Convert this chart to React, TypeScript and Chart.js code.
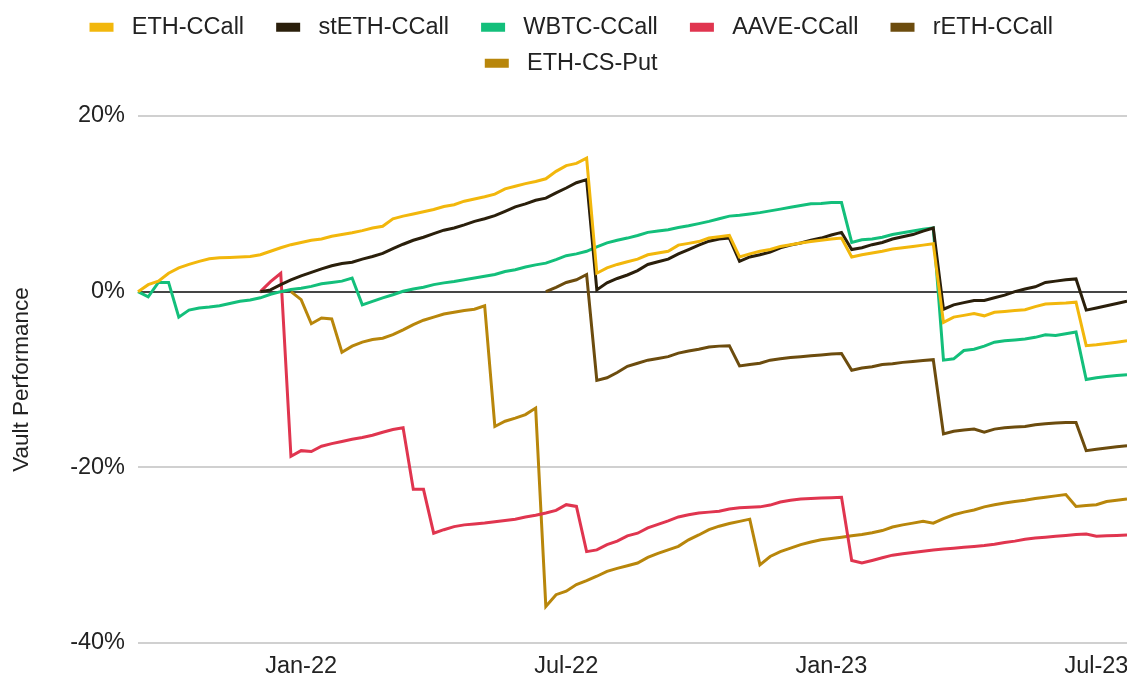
import React, { useEffect, useRef } from 'react';
import { Chart, registerables } from 'chart.js';

Chart.register(...registerables);

// ---- categories (weekly Friday roll dates) ----
const START_DATE = '2021-09-10';
const WEEK_COUNT = 98;
const CATEGORIES: string[] = [];
{
  const d0 = Date.parse(START_DATE + 'T00:00:00Z');
  for (let i = 0; i < WEEK_COUNT; i++) {
    CATEGORIES.push(new Date(d0 + i * 7 * 86400000).toISOString().slice(0, 10));
  }
}

// ---- x tick labels ----
const X_TICK_DATES = ['2021-12-31', '2022-07-01', '2022-12-30', '2023-06-30'];
const X_TICK_LABELS = ['Jan-22', 'Jul-22', 'Jan-23', 'Jul-23'];

// ---- y axis ----
const Y_MIN = -40;
const Y_MAX = 20;
const Y_STEP = 20;

// ---- series (percent) ----
const ETH_CCALL = [
  0, 0.8, 1.2, 2.1, 2.7, 3.1, 3.45, 3.75, 3.85, 3.9,
  3.95, 4.0, 4.2, 4.6, 5.0, 5.35, 5.6, 5.85, 6.0, 6.3,
  6.5, 6.7, 6.95, 7.25, 7.45, 8.3, 8.6, 8.85, 9.1, 9.35,
  9.7, 9.9, 10.3, 10.55, 10.8, 11.1, 11.7, 12.0, 12.3, 12.55,
  12.85, 13.7, 14.35, 14.6, 15.2, 2.1, 2.7, 3.1, 3.4, 3.7,
  4.2, 4.4, 4.6, 5.3, 5.5, 5.7, 6.1, 6.25, 6.4, 3.95,
  4.3, 4.6, 4.8, 5.15, 5.35, 5.55, 5.7, 5.85, 6.0, 6.1,
  3.95, 4.2, 4.4, 4.6, 4.85, 5.0, 5.15, 5.3, 5.45, -3.5,
  -2.9, -2.7, -2.5, -2.75, -2.35, -2.25, -2.15, -2.05, -1.7, -1.4,
  -1.35, -1.3, -1.2, -6.15, -6.05, -5.9, -5.75, -5.6,
];

const STETH_CCALL = [
  null, null, null, null, null, null, null, null, null, null,
  null, null, 0, 0.2, 0.8, 1.35, 1.8, 2.2, 2.6, 2.95,
  3.2, 3.35, 3.7, 4.0, 4.35, 4.9, 5.4, 5.85, 6.2, 6.6,
  7.0, 7.25, 7.6, 8.0, 8.3, 8.65, 9.15, 9.65, 10.0, 10.4,
  10.65, 11.25, 11.8, 12.4, 12.75, 0.2, 1.0, 1.5, 1.9, 2.4,
  3.1, 3.4, 3.7, 4.3, 4.8, 5.3, 5.75, 6.0, 6.1, 3.45,
  3.95, 4.2, 4.5, 5.0, 5.3, 5.55, 5.85, 6.1, 6.45, 6.75,
  4.8, 5.0, 5.35, 5.6, 6.0, 6.25, 6.5, 6.9, 7.25, -2.0,
  -1.5, -1.25, -1.0, -1.0, -0.7, -0.4, 0.0, 0.3, 0.55, 1.05,
  1.2, 1.35, 1.45, -2.1, -1.85, -1.6, -1.35, -1.1,
];

const WBTC_CCALL = [
  0, -0.6, 1.05, 1.05, -2.9, -2.1, -1.85, -1.75, -1.6, -1.35,
  -1.1, -0.95, -0.7, -0.3, 0.0, 0.25, 0.4, 0.6, 0.9, 1.05,
  1.2, 1.55, -1.5, -1.1, -0.7, -0.35, 0.05, 0.3, 0.5, 0.8,
  1.0, 1.15, 1.35, 1.55, 1.75, 1.95, 2.3, 2.5, 2.8, 3.05,
  3.25, 3.65, 4.1, 4.3, 4.6, 5.1, 5.55, 5.85, 6.1, 6.4,
  6.75, 6.9, 7.05, 7.3, 7.5, 7.75, 8.0, 8.3, 8.6, 8.7,
  8.85, 9.0, 9.2, 9.4, 9.6, 9.8, 10.0, 10.05, 10.15, 10.15,
  5.6, 5.9, 6.0, 6.2, 6.5, 6.7, 6.9, 7.1, 7.25, -7.8,
  -7.65, -6.7, -6.55, -6.2, -5.75, -5.6, -5.5, -5.4, -5.2, -4.9,
  -5.0, -4.8, -4.6, -10.0, -9.8, -9.65, -9.55, -9.45,
];

const AAVE_CCALL = [
  null, null, null, null, null, null, null, null, null, null,
  null, null, 0, 1.15, 2.1, -18.75, -18.1, -18.2, -17.6, -17.3,
  -17.05, -16.8, -16.6, -16.35, -16.0, -15.7, -15.5, -22.5, -22.5, -27.5,
  -27.1, -26.75, -26.55, -26.45, -26.35, -26.2, -26.05, -25.9, -25.65, -25.45,
  -25.2, -24.9, -24.25, -24.45, -29.6, -29.4, -28.8, -28.4, -27.8, -27.5,
  -26.9, -26.5, -26.1, -25.65, -25.4, -25.2, -25.1, -25.0, -24.75, -24.6,
  -24.55, -24.5, -24.3, -23.95, -23.75, -23.6, -23.55, -23.5, -23.45, -23.4,
  -30.6, -30.9, -30.6, -30.3, -30.0, -29.85, -29.7, -29.55, -29.4, -29.3,
  -29.2, -29.1, -29.0, -28.9, -28.75, -28.55, -28.4, -28.2, -28.05, -27.95,
  -27.85, -27.75, -27.65, -27.6, -27.85, -27.8, -27.75, -27.7,
];

const RETH_CCALL = [
  null, null, null, null, null, null, null, null, null, null,
  null, null, null, null, null, null, null, null, null, null,
  null, null, null, null, null, null, null, null, null, null,
  null, null, null, null, null, null, null, null, null, null,
  0, 0.5, 1.05, 1.35, 1.95, -10.1, -9.8, -9.2, -8.5, -8.15,
  -7.8, -7.6, -7.4, -7.0, -6.75, -6.55, -6.3, -6.2, -6.15, -8.45,
  -8.3, -8.15, -7.8, -7.65, -7.5, -7.4, -7.3, -7.2, -7.1, -7.05,
  -8.95, -8.7, -8.55, -8.3, -8.2, -8.05, -7.95, -7.85, -7.75, -16.2,
  -15.9, -15.75, -15.65, -16.0, -15.65, -15.5, -15.4, -15.35, -15.15, -15.05,
  -14.95, -14.9, -14.9, -18.1, -17.95, -17.8, -17.65, -17.55,
];

const ETH_CS_PUT = [
  null, null, null, null, null, null, null, null, null, null,
  null, null, null, null, null, 0, -0.9, -3.65, -3.0, -3.1,
  -6.9, -6.2, -5.75, -5.45, -5.3, -4.9, -4.35, -3.75, -3.25, -2.9,
  -2.55, -2.35, -2.15, -2.0, -1.6, -15.35, -14.75, -14.4, -14.0, -13.25,
  -35.85, -34.5, -34.1, -33.35, -32.9, -32.4, -31.85, -31.5, -31.2, -30.9,
  -30.25, -29.8, -29.4, -29.0, -28.25, -27.7, -27.1, -26.7, -26.4, -26.15,
  -25.9, -31.1, -30.15, -29.6, -29.2, -28.8, -28.5, -28.25, -28.1, -27.95,
  -27.8, -27.65, -27.45, -27.2, -26.8, -26.55, -26.35, -26.15, -26.35, -25.85,
  -25.4, -25.1, -24.85, -24.5, -24.25, -24.05, -23.9, -23.75, -23.55, -23.4,
  -23.25, -23.1, -24.45, -24.35, -24.25, -23.9, -23.75, -23.6,
];

const SERIES_NAMES = ['ETH-CCall', 'stETH-CCall', 'WBTC-CCall', 'AAVE-CCall', 'rETH-CCall', 'ETH-CS-Put'];
const SERIES_DATA = [ETH_CCALL, STETH_CCALL, WBTC_CCALL, AAVE_CCALL, RETH_CCALL, ETH_CS_PUT];
const SERIES_COLORS = ['#F2B70C', '#2A1F0B', '#13BF7B', '#E0354F', '#6C4C0E', '#B8860B'];

const FONT_FAMILY = "'Liberation Sans', Arial, Helvetica, sans-serif";
const TEXT_COLOR = '#222222';

export default function App() {
  const canvasRef = useRef<HTMLCanvasElement | null>(null);

  useEffect(() => {
    document.body.style.margin = '0';
    const canvas = canvasRef.current;
    if (!canvas) return;

    const legendTweak = {
      id: 'legendTweak',
      beforeInit(chart: any) {
        const legend = chart.legend;
        if (legend) {
          const origFit = legend.fit;
          legend.fit = function () {
            origFit.call(this);
            this.height = 113;
          };
        }
      },
      afterLayout(chart: any) {
        const legend = chart.legend;
        if (legend) {
          legend.left += 17.5;
          legend.right += 17.5;
        }
      },
    };

    const chart = new Chart(canvas, {
      type: 'line',
      data: {
        labels: CATEGORIES,
        datasets: SERIES_NAMES.map((name, i) => ({
          label: name,
          data: SERIES_DATA[i] as any,
          borderColor: SERIES_COLORS[i],
          backgroundColor: SERIES_COLORS[i],
          borderWidth: 3,
          pointRadius: 0,
          pointHoverRadius: 0,
          tension: 0,
          fill: false,
          spanGaps: false,
        })),
      },
      options: {
        animation: false,
        responsive: false,
        maintainAspectRatio: false,
        layout: { padding: { top: 3, left: 0, right: 0, bottom: 0 } },
        plugins: {
          tooltip: { enabled: false },
          legend: {
            display: true,
            position: 'top',
            labels: {
              boxWidth: 24,
              boxHeight: 9,
              padding: 12.5,
              color: TEXT_COLOR,
              font: { family: FONT_FAMILY, size: 23.5 },
              generateLabels: (c: any) => {
                const items = (Chart.defaults.plugins.legend.labels as any).generateLabels(c);
                return items.map((it: any) => ({ ...it, text: ' ' + it.text + '   ', lineWidth: 0 }));
              },
            },
          },
        },
        scales: {
          x: {
            type: 'category',
            offset: false,
            grid: { display: false, drawTicks: false },
            border: { display: false },
            ticks: {
              autoSkip: false,
              maxRotation: 0,
              minRotation: 0,
              padding: 9,
              color: TEXT_COLOR,
              font: { family: FONT_FAMILY, size: 23.5 },
              callback: (_v: any, index: number) => {
                const k = X_TICK_DATES.indexOf(CATEGORIES[index]);
                return k >= 0 ? X_TICK_LABELS[k] : '';
              },
            },
            afterFit: (scale: any) => {
              scale.height = 37;
              scale.paddingLeft = 0;
              scale.paddingRight = 0;
            },
          },
          y: {
            type: 'linear',
            min: Y_MIN,
            max: Y_MAX,
            grid: {
              drawTicks: false,
              lineWidth: 2,
              color: (ctx: any) => (ctx.tick && ctx.tick.value === 0 ? '#454545' : '#d0d0d0'),
            },
            border: { display: false },
            ticks: {
              stepSize: Y_STEP,
              padding: 13,
              color: TEXT_COLOR,
              font: { family: FONT_FAMILY, size: 23.5 },
              callback: (v: any) => v + '%',
            },
            title: {
              display: true,
              text: 'Vault Performance',
              color: TEXT_COLOR,
              font: { family: FONT_FAMILY, size: 22.5 },
              padding: { top: 8, bottom: 4 },
            },
            afterFit: (scale: any) => {
              scale.width = 138;
            },
          },
        },
      },
      plugins: [legendTweak],
    });

    return () => chart.destroy();
  }, []);

  return (
    <div style={{ width: 1127, height: 680, position: 'relative' }}>
      <canvas ref={canvasRef} width={1127} height={680} style={{ display: 'block' }} />
    </div>
  );
}
